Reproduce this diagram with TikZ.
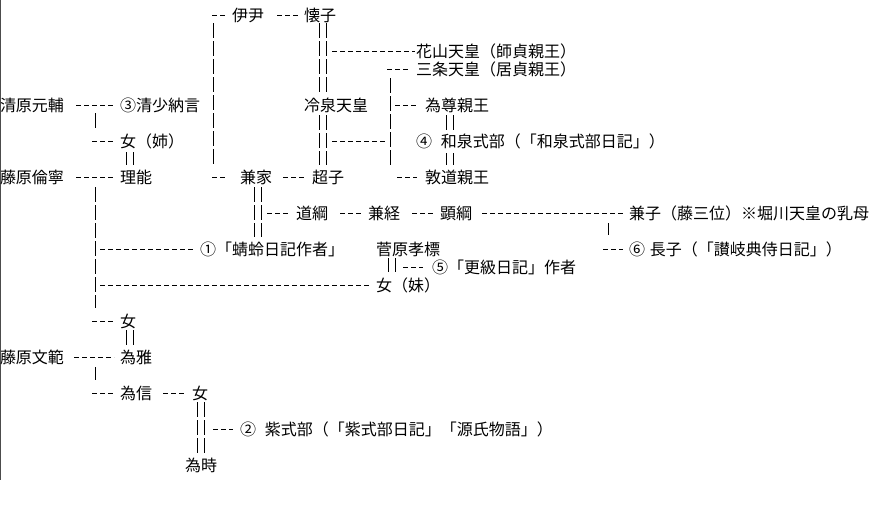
\documentclass[tikz,border=0pt]{standalone}
\usepackage{fontspec}
\newfontfamily\jp{Noto Sans CJK JP}
\usetikzlibrary{calc}
\begin{document}
\begin{tikzpicture}[x=1pt,y=-1pt,
  t/.style={anchor=west,inner sep=0pt,outer sep=0pt,text height=14pt,text depth=2pt,font=\jp\fontsize{16pt}{18pt}\selectfont},
  hd/.style={line width=1pt,dash pattern=on 5pt off 3pt},
  vd/.style={line width=1pt,dash pattern=on 15pt off 3pt},
  dl/.style={line width=1pt,double,double distance=5.5pt,dash pattern=on 15pt off 3pt}]
\useasboundingbox (0,0) rectangle (876,512);
\fill[white] (0,0) rectangle (876,512);
\draw[line width=1.2pt,black!70] (0.6,0) -- (0.6,480);
% text nodes
\node[t] (ii) at (232,15) {伊尹};
\node[t] (kaishi) at (304,15) {懐子};
\node[t] (kazan) at (416,51) {花山天皇（師貞親王）};
\node[t] (sanjo) at (416,69) {三条天皇（居貞親王）};
\node[t] (motosuke) at (0,105) {清原元輔};
\node[t] (sei) at (120,105) {③清少納言};
\node[t] (reizei) at (304,105) {冷泉天皇};
\node[t] (tametaka) at (425,105) {為尊親王};
\node[t] (ane) at (120,141) {女（姉）};
\node[t] (izumi) at (416,141) {④\hspace{9pt}和泉式部（「和泉式部日記」）};
\node[t] (tomoyasu) at (0,177) {藤原倫寧};
\node[t] (masato) at (120,177) {理能};
\node[t] (kaneie) at (240,177) {兼家};
\node[t] (choshi) at (312,177) {超子};
\node[t] (atsumichi) at (425,177) {敦道親王};
\node[t] (michitsuna) at (296,213) {道綱};
\node[t] (kanetsune) at (368,213) {兼経};
\node[t] (akitsuna) at (440,213) {顕綱};
\node[t] (kenshi) at (629,213) {兼子（藤三位）※堀川天皇の乳母};
\node[t] (kagero) at (200,249) {①「蜻蛉日記作者」};
\node[t] (takasue) at (376,249) {菅原孝標};
\node[t] (nagako) at (629,249) {⑥\hspace{5pt}長子（「讃岐典侍日記」）};
\node[t] (sarashina) at (432,267) {⑤「更級日記」作者};
\node[t] (imoto) at (376,285) {女（妹）};
\node[t] (onnaA) at (120,321) {女};
\node[t] (fuminori) at (0,357) {藤原文範};
\node[t] (tamemasa) at (120,357) {為雅};
\node[t] (tamenobu) at (120,393) {為信};
\node[t] (onnaB) at (192,393) {女};
\node[t] (murasaki) at (240,429) {②\hspace{9pt}紫式部（「紫式部日記」「源氏物語」）};
\node[t] (tametoki) at (185,465) {為時};
% junction coordinates
\coordinate (brA) at (213,15);
\coordinate (brB) at (213,177);
\coordinate (kzj) at (332,51);
\coordinate (brC) at (390,69);
\coordinate (brD) at (390,177);
\coordinate (rzj) at (332,141);
\coordinate (kj) at (95,105);
\coordinate (tj) at (95,177);
\coordinate (aj) at (608,213);
\coordinate (fj) at (95,357);
% 伊尹 -> 兼家
\draw[hd] ($(brA)+(-1,0)$) -- ($(ii.west)+(-5,0)$);
\draw[hd] ($(brB)+(-1,0)$) -- ($(kaneie.west)+(-13,0)$);
\draw[vd] ($(brA)+(0,8)$) -- ($(brB)+(0,-12)$);
% 伊尹 -> 懐子
\draw[hd] ($(ii.east)+(13,0)$) -- ($(kaishi.west)+(-4,0)$);
% 懐子 = 冷泉天皇 = 超子
\draw[dl] ($(kaishi.west)+(19,8)$) -- ($(reizei.west)+(19,-12)$);
\draw[dl] ($(reizei.west)+(19,10)$) -- ($(choshi.west)+(11,-12)$);
\draw[hd] (kzj) -- ($(kazan.west)+(-1,0)$);
% 冷泉天皇・超子 -> children
\draw[hd] ($(brC)+(-3,0)$) -- ($(sanjo.west)+(-6,0)$);
\draw[vd] ($(brC)+(0,9)$) -- ($(brD)+(0,-12)$);
\draw[hd] (rzj) -- ($(brC |- rzj)+(-3,0)$);
\draw[hd] ($(brC |- tametaka.west)+(5,0)$) -- ($(tametaka.west)+(-7,0)$);
\draw[hd] ($(brD)+(7,0)$) -- ($(atsumichi.west)+(-8,0)$);
% 為尊親王 = 和泉式部 = 敦道親王
\draw[dl] ($(tametaka.west)+(25,10)$) -- ($(tametaka.west)+(25,25)$);
\draw[dl] ($(atsumichi.west)+(25,-24)$) -- ($(atsumichi.west)+(25,-12)$);
% 清原元輔
\draw[hd] ($(motosuke.east)+(12,0)$) -- ($(sei.west)+(-7,0)$);
\draw[vd] ($(kj)+(0,8)$) -- ($(kj)+(0,23)$);
\draw[hd] ($(kj)+(-3,36)$) -- ($(ane.west)+(-7,0)$);
\draw[dl] ($(ane.west)+(10,11)$) -- ($(masato.west)+(10,-12)$);
% 藤原倫寧
\draw[hd] ($(tomoyasu.east)+(12,0)$) -- ($(masato.west)+(-7,0)$);
\draw[vd] ($(tj)+(0,10)$) -- ($(tj)+(0,131)$);
\draw[hd] ($(tj |- kagero.west)+(5,0)$) -- ($(kagero.west)+(-7,0)$);
\draw[hd] ($(tj |- imoto.west)+(5,0)$) -- ($(imoto.west)+(-6,0)$);
\draw[hd] ($(tj |- onnaA.west)+(-3,0)$) -- ($(onnaA.west)+(-7,0)$);
% 兼家
\draw[hd] ($(kaneie.east)+(11,0)$) -- ($(choshi.west)+(-7,0)$);
\draw[dl] ($(kaneie.west)+(18,10)$) -- ($(kaneie.west)+(18,60)$);
\draw[hd] ($(kaneie.west)+(27,36)$) -- ($(michitsuna.west)+(-6,0)$);
\draw[hd] ($(michitsuna.east)+(12,0)$) -- ($(kanetsune.west)+(-5,0)$);
\draw[hd] ($(kanetsune.east)+(12,0)$) -- ($(akitsuna.west)+(-7,0)$);
\draw[hd] ($(akitsuna.east)+(10,0)$) -- ($(kenshi.west)+(-6,0)$);
\draw[vd] ($(aj)+(0,10)$) -- ($(aj)+(0,22)$);
\draw[hd] ($(aj |- nagako.west)+(-5,0)$) -- ($(nagako.west)+(-6,0)$);
% 菅原孝標 = 女（妹）
\draw[dl] ($(takasue.west)+(16,9)$) -- ($(imoto.west)+(16,-13)$);
\draw[hd] ($(takasue.west)+(27,18)$) -- ($(sarashina.west)+(-9,0)$);
% 女 = 為雅
\draw[dl] ($(onnaA.west)+(10,9)$) -- ($(tamemasa.west)+(10,-12)$);
% 藤原文範
\draw[hd] ($(fuminori.east)+(10,0)$) -- ($(tamemasa.west)+(-6,0)$);
\draw[vd] ($(fj)+(0,10)$) -- ($(fj)+(0,23)$);
\draw[hd] ($(fj |- tamenobu.west)+(-3,0)$) -- ($(tamenobu.west)+(-7,0)$);
\draw[hd] ($(tamenobu.east)+(11,0)$) -- ($(onnaB.west)+(-7,0)$);
% 女 = 為時
\draw[dl] ($(onnaB.west)+(9,9)$) -- ($(tametoki.west)+(16,-12)$);
\draw[hd] ($(onnaB.west)+(21,36)$) -- ($(murasaki.west)+(-7,0)$);
\end{tikzpicture}
\end{document}
